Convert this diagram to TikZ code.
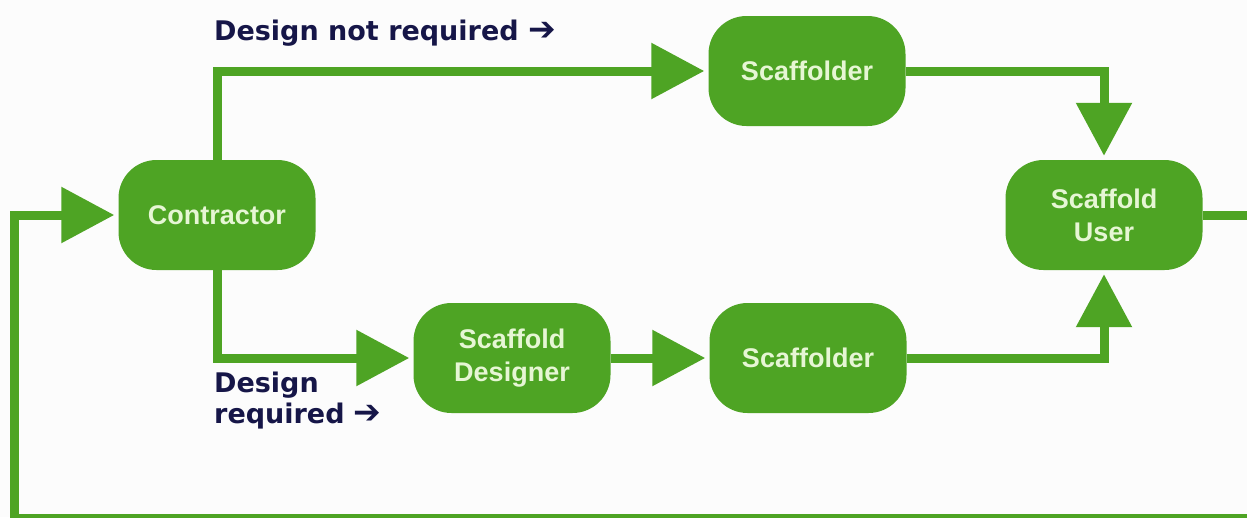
\documentclass[tikz,border=0pt]{standalone}
\usepackage{fontspec}
\usetikzlibrary{arrows.meta}
\newfontfamily\boxfont{Liberation Sans}
\newfontfamily\lblfont{DejaVu Sans}
\definecolor{grn}{RGB}{78,164,36}
\definecolor{boxtxt}{RGB}{230,246,212}
\definecolor{navy}{RGB}{22,22,72}
\definecolor{bg}{RGB}{252,252,252}
\newcommand{\bigarr}{{\fontsize{33}{31}\selectfont ➔}}
\tikzset{
  proc/.style={fill=grn, draw=none, rounded corners=38pt, minimum width=197pt,
    minimum height=110pt, text=boxtxt, align=center,
    font=\boxfont\bfseries\fontsize{27}{33}\selectfont, inner sep=0pt},
  flow/.style={draw=grn, line width=9pt, -{Triangle[length=53pt,width=54pt]}, shorten >=4pt},
  lbl/.style={text=navy, font=\lblfont\bfseries\fontsize{27}{31}\selectfont, align=left, inner sep=0pt, anchor=west}
}
\begin{document}
\begin{tikzpicture}[x=1pt,y=-1pt]
\useasboundingbox (0,0) rectangle (1247,517);
\fill[bg] (0,0) rectangle (1247,517);
\clip (0,0) rectangle (1247,517);
\node[proc] (con) at (217,215) {Contractor};
\node[proc] (sc1) at (807,71) {Scaffolder};
\node[proc] (des) at (512,358) {Scaffold\\Designer};
\node[proc] (sc2) at (808,358) {Scaffolder};
\node[proc] (user) at (1104,215) {Scaffold\\User};
\coordinate (br) at (1252,518);
\coordinate (bl) at (14,518);
\draw[flow] (con.north) |- (sc1.west);
\draw[flow] (sc1.east) -| (user.north);
\draw[flow] (con.south) |- (des.west);
\draw[flow] (des.east) -- (sc2.west);
\draw[flow] (sc2.east) -| (user.south);
\draw[flow] (user.east) -| (br) -| (bl) |- (con.west);
\node[lbl] (l1) at (214,33) {Design not required \bigarr};
\node[lbl] (l2) at (214,401) {Design\\required \bigarr};
\end{tikzpicture}
\end{document}
